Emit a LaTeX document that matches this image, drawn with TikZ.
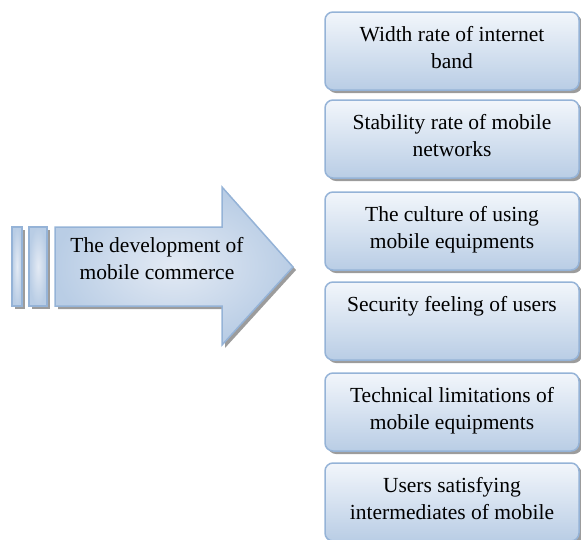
\documentclass[tikz,border=0pt]{standalone}
\usepackage{fontspec}
\setmainfont{Liberation Serif}
\usetikzlibrary{calc}
\definecolor{edgeblue}{HTML}{95B3D7}
\definecolor{lightblue}{HTML}{B9CDE5}
\definecolor{paleblue}{HTML}{F2F6FB}
\definecolor{midpale}{HTML}{E3EAF4}
\definecolor{shadowgray}{HTML}{9C9C9C}
\tikzset{
  box/.style={draw=edgeblue, line width=1.5pt, rounded corners=8pt,
    top color=paleblue, bottom color=lightblue,
    minimum width=254pt, minimum height=78pt, inner sep=0pt},
  boxshadow/.style={fill=shadowgray, rounded corners=8pt,
    minimum width=254pt, minimum height=78pt, inner sep=0pt},
  btext/.style={anchor=north, inner sep=0pt, align=center,
    font=\fontsize{21.5}{27}\selectfont},
  arrowfill/.style={draw=edgeblue, line width=1.5pt, line join=miter,
    shading=radial, inner color=midpale, outer color=lightblue},
  shadowfill/.style={fill=shadowgray},
}
\begin{document}
\begin{tikzpicture}[x=1pt,y=-1pt]
\useasboundingbox (0,0) rectangle (581,539);
\clip (0,0) rectangle (581,539);
% arrow shadows
\fill[shadowgray] (15,230) rectangle (25,309);
\fill[shadowgray] (32,230) rectangle (50,309);
\fill[shadowgray] (58,230) -- (225,230) -- (225,190) -- (296,270) -- (225,348) -- (225,309) -- (58,309) -- cycle;
% bars and arrow
\path[arrowfill] (12,227) rectangle (22,306);
\path[arrowfill] (29,227) rectangle (47,306);
\path[arrowfill] (55,227) coordinate (a1) -- (222,227) coordinate (a2) -- (222,187) coordinate (a3)
  -- (293,267) coordinate (tip) -- (222,345) coordinate (a4) -- (222,306) coordinate (a5)
  -- (55,306) coordinate (a6) -- cycle;
\node[btext] (main) at (157,237) {\rule{0pt}{15pt}The development of\\mobile commerce};
% boxes
\foreach \n/\y in {1/51,2/139,3/231,4/321,5/412,6/502}{
  \node[boxshadow] (s\n) at (455,\y+3) {};
  \node[box] (b\n) at (452,\y) {};
}
\node[btext] (t1) at ([yshift=-15pt]b1.north) {\rule{0pt}{15pt}Width rate of internet\\band};
\node[btext] (t2) at ([yshift=-15pt]b2.north) {\rule{0pt}{15pt}Stability rate of mobile\\networks};
\node[btext] (t3) at ([yshift=-15pt]b3.north) {\rule{0pt}{15pt}The culture of using\\mobile equipments};
\node[btext] (t4) at ([yshift=-15pt]b4.north) {\rule{0pt}{15pt}Security feeling of users};
\node[btext] (t5) at ([yshift=-15pt]b5.north) {\rule{0pt}{15pt}Technical limitations of\\mobile equipments};
\node[btext] (t6) at ([yshift=-15pt]b6.north) {\rule{0pt}{15pt}Users satisfying\\intermediates of mobile};
\end{tikzpicture}
\end{document}
